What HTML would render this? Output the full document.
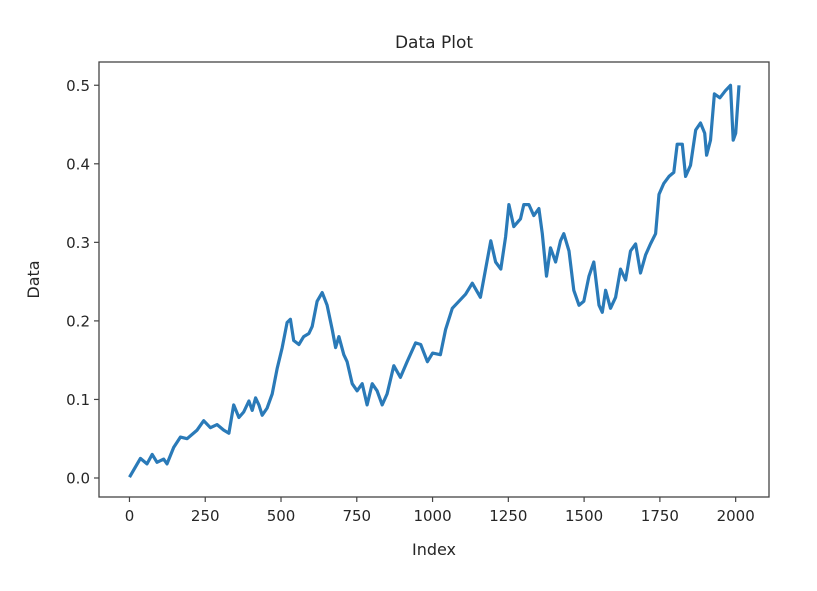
<!DOCTYPE html>
<html><head><meta charset="utf-8"><style>
html,body{margin:0;padding:0;background:#fff;}
svg text{font-family:"DejaVu Sans","Liberation Sans",sans-serif;fill:#262626;}
</style></head><body>
<svg width="817" height="586" viewBox="0 0 817 586" xmlns="http://www.w3.org/2000/svg">
<rect width="817" height="586" fill="#fff"/>
<g id="plot"></g>
</svg>
<script>
const idx=[0,36,58,75,91,113,124,146,168,190,223,245,267,289,311,328,344,361,377,394,405,416,427,438,454,471,487,504,520,531,542,559,575,592,603,619,636,652,669,680,691,707,718,735,751,768,784,801,817,834,850,872,894,916,944,961,983,1000,1026,1043,1065,1087,1109,1131,1158,1175,1192,1208,1225,1241,1252,1268,1290,1301,1318,1334,1351,1362,1376,1389,1406,1422,1433,1450,1466,1483,1499,1516,1532,1549,1560,1571,1587,1604,1620,1637,1653,1670,1686,1703,1719,1736,1747,1763,1780,1796,1807,1824,1835,1851,1868,1884,1898,1904,1917,1930,1948,1966,1983,1992,2000,2011];
const vals=[0.001,0.025,0.018,0.03,0.02,0.024,0.018,0.039,0.052,0.05,0.061,0.073,0.064,0.068,0.061,0.057,0.093,0.077,0.084,0.098,0.086,0.102,0.093,0.08,0.089,0.107,0.139,0.166,0.198,0.202,0.175,0.17,0.18,0.184,0.193,0.225,0.236,0.22,0.189,0.166,0.18,0.157,0.148,0.12,0.111,0.12,0.093,0.12,0.111,0.093,0.107,0.143,0.128,0.148,0.172,0.17,0.148,0.159,0.157,0.189,0.216,0.225,0.234,0.248,0.23,0.266,0.302,0.275,0.266,0.307,0.348,0.32,0.33,0.348,0.348,0.334,0.343,0.311,0.257,0.293,0.275,0.302,0.311,0.289,0.239,0.22,0.225,0.257,0.275,0.22,0.211,0.239,0.216,0.23,0.266,0.252,0.289,0.298,0.261,0.284,0.298,0.311,0.361,0.375,0.384,0.389,0.425,0.425,0.384,0.398,0.443,0.452,0.439,0.411,0.43,0.489,0.484,0.493,0.5,0.43,0.439,0.5];
const xTicks=[0,250,500,750,1000,1250,1500,1750,2000];
const yTicks=[0.0,0.1,0.2,0.3,0.4,0.5];
const yTickLabels=["0.0","0.1","0.2","0.3","0.4","0.5"];
const L=99,R=769,T=62,B=497;
const xMin=-100.5,xMax=2110,yMin=-0.0242,yMax=0.5296;
const sx=v=>L+(v-xMin)/(xMax-xMin)*(R-L);
const sy=v=>B-(v-yMin)/(yMax-yMin)*(B-T);
const NS="http://www.w3.org/2000/svg";
const g=document.getElementById('plot');
function mk(tag,attrs,parent){const e=document.createElementNS(NS,tag);for(const k in attrs)e.setAttribute(k,attrs[k]);(parent||g).appendChild(e);return e;}
let d=idx.map((x,i)=>(i?'L':'M')+sx(x).toFixed(1)+','+sy(vals[i]).toFixed(1)).join(' ');
const line=mk('path',{d:d,fill:'none',stroke:'#2a7ab8','stroke-width':3.2,'stroke-linejoin':'round'});


const frame=mk('rect',{x:L,y:T,width:R-L,height:B-T,fill:'none',stroke:'#444','stroke-width':1.3});


xTicks.forEach(t=>{
  const x=sx(t);
  const tk=mk('line',{x1:x,x2:x,y1:B,y2:B+5,stroke:'#444','stroke-width':1.2});
  
  
  const tx=mk('text',{x:x,y:B+24,'text-anchor':'middle','font-size':15});
  tx.textContent=String(t);
  
  
});
yTicks.forEach((t,i)=>{
  const y=sy(t);
  const tk=mk('line',{x1:L-5,x2:L,y1:y,y2:y,stroke:'#444','stroke-width':1.2});
  
  
  const tx=mk('text',{x:L-9,y:y+5.5,'text-anchor':'end','font-size':15});
  tx.textContent=yTickLabels[i];
  
  
});
const title=mk('text',{x:(L+R)/2,y:48,'text-anchor':'middle','font-size':17});
title.textContent='Data Plot';


const xl=mk('text',{x:(L+R)/2,y:555,'text-anchor':'middle','font-size':16});
xl.textContent='Index';


const yl=mk('text',{x:0,y:0,'text-anchor':'middle','font-size':16,transform:'translate(39,'+((T+B)/2)+') rotate(-90)'});
yl.textContent='Data';


</script>
</body></html>
